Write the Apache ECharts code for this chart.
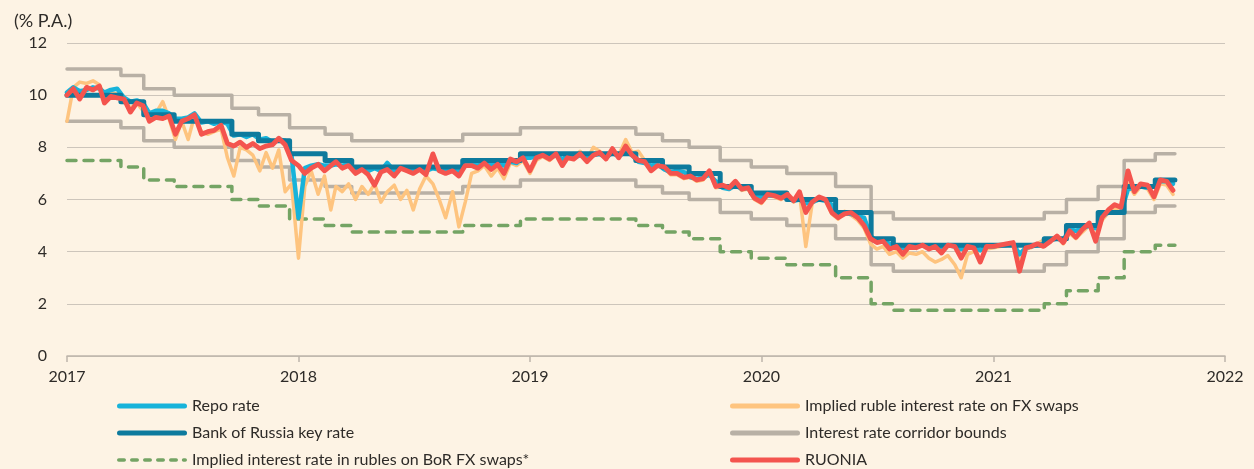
<!DOCTYPE html>
<html>
<head>
<meta charset="utf-8">
<script src="https://cdn.jsdelivr.net/npm/echarts@6/dist/echarts.min.js"></script>
<style>
html,body{margin:0;padding:0;background:#fdf3e4;}
#chart{width:1254px;height:469px;}
</style>
</head>
<body>
<div id="chart"></div>
<script>
// ---- Policy rate steps (change dates) ----
const stepDates = ['2017-01-01','2017-03-27','2017-05-02','2017-06-19','2017-09-18','2017-10-30','2017-12-18','2018-02-12','2018-03-26','2018-09-17','2018-12-17','2019-06-17','2019-07-29','2019-09-09','2019-10-28','2019-12-16','2020-02-10','2020-04-27','2020-06-22','2020-07-27','2021-03-22','2021-04-26','2021-06-15','2021-07-26','2021-09-13','2021-10-14'];
const keyRate      = [10,9.75,9.25,9,8.5,8.25,7.75,7.5,7.25,7.5,7.75,7.5,7.25,7,6.5,6.25,6,5.5,4.5,4.25,4.5,5,5.5,6.5,6.75,6.75];
const corridorUp   = [11,10.75,10.25,10,9.5,9.25,8.75,8.5,8.25,8.5,8.75,8.5,8.25,8,7.5,7.25,7,6.5,5.5,5.25,5.5,6,6.5,7.5,7.75,7.75];
const corridorLow  = [9,8.75,8.25,8,7.5,7.25,6.75,6.5,6.25,6.5,6.75,6.5,6.25,6,5.5,5.25,5,4.5,3.5,3.25,3.5,4,4.5,5.5,5.75,5.75];
const borSwapRate  = [7.5,7.25,6.75,6.5,6,5.75,5.25,5,4.75,5,5.25,5,4.75,4.5,4,3.75,3.5,3,2,1.75,2,2.5,3,4,4.25,4.25];

// ---- Market rates sampled on the 1st, 11th and 21st of each month ----
const sampleDays = [1, 11, 21];
const firstYear = 2017, lastDate = '2021-10-11';

const ruonia2017 = [10.0,10.25,9.85,10.3,10.2,10.35,9.7,9.95,9.9,9.85,9.35,9.7,9.6,9.0,9.15,9.1,9.2,8.5,9.0,9.1,9.25,8.5,8.6,8.65,8.85,8.15,8.05,8.2,8.0,8.15,7.95,8.05,8.1,8.35,8.1,7.5];
const ruonia2018 = [7.3,7.0,7.2,7.35,7.1,7.3,7.45,7.2,7.3,7.0,7.15,6.95,6.55,7.05,7.15,6.9,7.2,7.1,7.0,7.15,6.95,7.75,7.1,7.0,7.1,6.9,7.3,7.3,7.2,7.4,7.15,7.35,7.0,7.55,7.45,7.6];
const ruonia2019 = [7.1,7.6,7.7,7.55,7.75,7.3,7.6,7.55,7.75,7.45,7.7,7.8,7.55,7.95,7.6,8.05,7.7,7.5,7.45,7.1,7.3,7.25,7.0,7.0,6.85,6.9,6.75,6.8,7.1,6.5,6.55,6.45,6.7,6.4,6.45,6.05];
const ruonia2020 = [5.9,6.2,6.15,6.05,6.2,5.95,6.3,5.5,5.9,6.1,6.0,5.5,5.3,5.45,5.5,5.3,5.0,4.5,4.35,4.4,4.1,4.2,3.9,4.2,4.15,4.25,4.1,4.2,3.95,4.25,4.2,3.75,4.2,4.15,3.6,4.2];
const ruonia2021 = [4.2,4.25,4.3,4.35,3.25,4.15,4.2,4.3,4.2,4.4,4.6,4.35,4.8,4.55,4.85,5.1,4.4,5.3,5.6,5.8,5.7,7.1,6.3,6.6,6.55,6.1,6.75,6.7,6.35];

const fxImplied2017 = [9.0,10.3,10.5,10.45,10.55,10.4,10.0,10.1,10.05,9.8,9.5,9.7,9.4,9.1,9.3,9.75,9.1,8.3,9.0,8.3,9.2,8.6,8.5,8.6,8.7,7.6,6.9,8.0,7.9,7.7,7.1,7.8,7.2,7.9,6.3,6.6];
const fxImplied2018 = [3.75,6.5,7.1,6.2,6.9,5.6,6.5,6.3,6.6,6.0,6.5,6.2,6.6,5.9,6.3,6.55,6.0,6.35,5.6,6.4,6.9,6.6,6.0,5.3,6.3,4.95,5.9,7.0,7.1,7.3,6.9,7.2,6.8,7.4,7.3,7.5];
const fxImplied2019 = [7.0,7.5,7.65,7.5,7.7,7.35,7.55,7.6,7.85,7.55,8.0,7.85,7.6,7.9,7.7,8.3,7.8,7.85,7.5,7.2,7.35,7.2,6.95,6.95,6.8,6.85,6.7,6.75,7.05,6.45,6.5,6.4,6.65,6.35,6.4,6.0];
const fxImplied2020 = [5.85,6.15,6.1,6.0,6.15,5.9,6.25,4.2,5.85,6.05,5.95,5.45,5.25,5.55,5.4,5.2,4.9,4.3,4.1,4.2,3.9,4.0,3.75,3.95,3.9,4.0,3.75,3.6,3.7,3.85,3.5,3.0,3.9,4.0,4.05,4.1];
const fxImplied2021 = [4.15,4.2,4.25,4.3,3.6,4.1,4.15,4.3,4.45,4.45,4.6,4.3,4.7,4.5,4.75,5.0,4.6,5.2,5.5,5.65,5.6,6.6,6.2,6.5,6.4,6.0,6.6,6.55,6.2];

const repo2017 = [10.1,10.3,10.15,10.2,10.3,10.25,10.1,10.2,10.25,9.9,9.75,9.8,9.7,9.3,9.4,9.4,9.3,9.1,9.1,9.15,9.3,8.95,9.0,8.9,9.0,8.9,8.45,8.5,8.4,8.5,8.3,8.35,8.2,8.3,8.25,7.7];
const repo2018 = [5.3,7.2,7.3,7.35,7.3,7.3,7.35,7.3,7.35,7.1,7.15,7.1,7.2,7.1,7.4,7.1,7.2,7.15,7.1,7.15,7.1,7.2,7.15,7.1,7.15,7.1,7.4,7.35,7.3,7.45,7.3,7.4,7.3,7.45,7.4,7.6];
const repo2019 = [7.6,7.65,7.7,7.6,7.7,7.55,7.65,7.6,7.7,7.6,7.7,7.75,7.6,7.8,7.65,7.85,7.7,7.45,7.4,7.3,7.35,7.15,7.05,7.1,7.05,6.85,6.8,6.85,6.95,6.7,6.45,6.4,6.55,6.4,6.45,6.15];
const repo2020 = [6.1,6.15,6.15,6.1,6.05,5.95,6.0,5.85,5.9,6.0,5.95,5.8,5.4,5.45,5.45,5.35,5.3,4.6,4.4,4.45,4.3,4.2,4.15,4.2,4.2,4.25,4.15,4.2,4.15,4.25,4.2,4.1,4.2,4.2,4.05,4.2];
const repo2021 = [4.2,4.25,4.25,4.3,3.9,4.15,4.2,4.25,4.3,4.45,4.5,4.45,4.85,4.8,4.9,5.0,4.9,5.35,5.5,5.5,5.5,6.4,6.45,6.5,6.45,6.5,6.7,6.7,6.6];

const yTicks = [0, 2, 4, 6, 8, 10, 12];

// sample dates (x positions of the market series)
const sampleDates = [];
for (let y = firstYear; y <= 2021; y++) {
  for (let m = 1; m <= 12; m++) {
    for (const d of sampleDays) {
      const s = y + '-' + String(m).padStart(2, '0') + '-' + String(d).padStart(2, '0');
      if (s <= lastDate) sampleDates.push(s);
    }
  }
}
const ruonia = [].concat(ruonia2017, ruonia2018, ruonia2019, ruonia2020, ruonia2021);
const fxImplied = [].concat(fxImplied2017, fxImplied2018, fxImplied2019, fxImplied2020, fxImplied2021);
const repo = [].concat(repo2017, repo2018, repo2019, repo2020, repo2021);

const pair = (dates, vals) => vals.map((v, i) => [dates[i], v]);

const TXT = '#2e2b28';
const FONT = 'Lato';
const C = {
  repo: '#17b3da', key: '#0d7a9d', bor: '#74a464', fx: '#fec47f', corr: '#b8b0a5', ruonia: '#f4544e'
};

const NAMES = {
  repo: 'Repo rate', key: 'Bank of Russia key rate', bor: 'Implied interest rate in rubles on BoR FX swaps*',
  fx: 'Implied ruble interest rate on FX swaps', corr: 'Interest rate corridor bounds', ruonia: 'RUONIA'
};

// legend icons: a rounded bar, and a dashed bar
const ICON_SOLID = 'path://M2.5,0H67.5A2.5,2.5 0 0 1 67.5,5H2.5A2.5,2.5 0 0 1 2.5,0Z';
const ICON_DASH = 'path://M1.8,0H7.2A1.8,1.8 0 0 1 7.2,3.6H1.8A1.8,1.8 0 0 1 1.8,0Z' +
  'M14.8,0H20.2A1.8,1.8 0 0 1 20.2,3.6H14.8A1.8,1.8 0 0 1 14.8,0Z' +
  'M27.8,0H33.2A1.8,1.8 0 0 1 33.2,3.6H27.8A1.8,1.8 0 0 1 27.8,0Z' +
  'M40.8,0H46.2A1.8,1.8 0 0 1 46.2,3.6H40.8A1.8,1.8 0 0 1 40.8,0Z' +
  'M53.8,0H59.2A1.8,1.8 0 0 1 59.2,3.6H53.8A1.8,1.8 0 0 1 53.8,0Z' +
  'M66.6,0H68.2A1.8,1.8 0 0 1 68.2,3.6H66.6A1.8,1.8 0 0 1 66.6,0Z';

const baseLine = (name, color, width, data, z, extra) => Object.assign({
  name, type: 'line', data, symbol: 'none', showSymbol: false, z,
  lineStyle: { color, width, cap: 'round', join: 'round' },
  itemStyle: { color },
  emphasis: { disabled: true }, animation: false
}, extra || {});

const legendBase = {
  orient: 'vertical', top: 398, padding: 0, itemWidth: 70, itemHeight: 14, itemGap: 11,
  symbolKeepAspect: true, selectedMode: false,
  textStyle: { fontFamily: FONT, fontSize: 16, color: TXT, lineHeight: 14 }
};

const chart = echarts.init(document.getElementById('chart'), null, { renderer: 'canvas' });
chart.setOption({
  backgroundColor: '#fdf3e4',
  animation: false,
  textStyle: { fontFamily: FONT, color: TXT },
  title: { text: '(% P.A.)', left: 9, top: 7, textStyle: { fontFamily: FONT, fontSize: 18, fontWeight: 'normal', color: TXT } },
  grid: { left: 67, right: 29, top: 43, bottom: 113, containLabel: false },
  legend: [
    Object.assign({}, legendBase, { left: 117,
      data: [{ name: NAMES.repo, icon: ICON_SOLID }, { name: NAMES.key, icon: ICON_SOLID }, { name: NAMES.bor, icon: ICON_DASH }] }),
    Object.assign({}, legendBase, { left: 730,
      data: [{ name: NAMES.fx, icon: ICON_SOLID }, { name: NAMES.corr, icon: ICON_SOLID }, { name: NAMES.ruonia, icon: ICON_SOLID }] })
  ],
  xAxis: {
    type: 'time', min: '2017-01-01', max: '2022-01-01', splitNumber: 5,
    minInterval: 365 * 24 * 3600 * 1000,
    axisLine: { lineStyle: { color: '#bdb5aa', width: 1.5 } },
    axisTick: { show: true, length: 6, lineStyle: { color: '#bdb5aa', width: 1.5 } },
    splitLine: { show: false },
    axisLabel: { formatter: '{yyyy}', fontFamily: FONT, fontSize: 16, color: TXT, margin: 13, showMinLabel: true, showMaxLabel: true, hideOverlap: false }
  },
  yAxis: {
    type: 'value', min: yTicks[0], max: yTicks[yTicks.length - 1], interval: 2,
    axisLine: { show: false }, axisTick: { show: false },
    splitLine: { lineStyle: { color: '#cdc5bb', width: 1.2 } },
    axisLabel: { fontFamily: FONT, fontSize: 16, color: TXT, margin: 20 }
  },
  series: [
    baseLine(NAMES.corr, C.corr, 3.5, pair(stepDates, corridorUp), 1, { step: 'end' }),
    baseLine(NAMES.corr, C.corr, 3.5, pair(stepDates, corridorLow), 1, { step: 'end' }),
    baseLine(NAMES.bor, C.bor, 3.5, pair(stepDates, borSwapRate), 2, { step: 'end',
      lineStyle: { color: C.bor, width: 3.5, type: [9, 8], cap: 'round', join: 'round' } }),
    baseLine(NAMES.fx, C.fx, 3.5, pair(sampleDates, fxImplied), 3),
    baseLine(NAMES.repo, C.repo, 4.5, pair(sampleDates, repo), 4),
    baseLine(NAMES.key, C.key, 5, pair(stepDates, keyRate), 5, { step: 'end' }),
    baseLine(NAMES.ruonia, C.ruonia, 4.8, pair(sampleDates, ruonia), 6)
  ]
});
</script>
</body>
</html>
